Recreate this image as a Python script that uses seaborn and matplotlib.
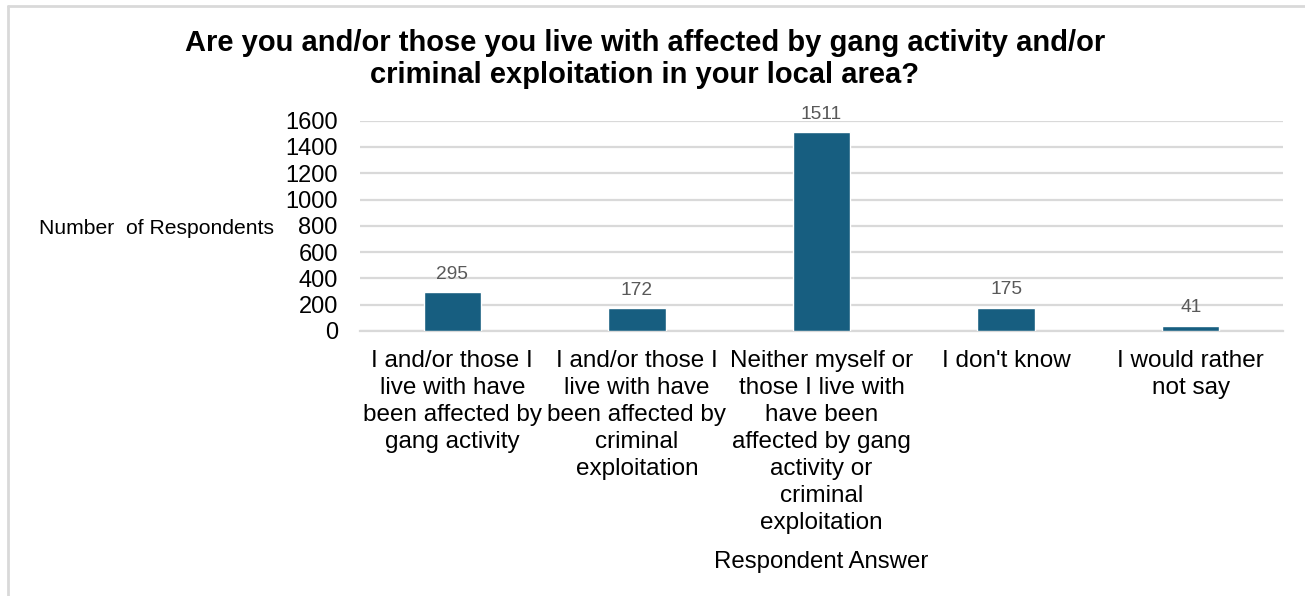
import matplotlib
matplotlib.use("Agg")
import matplotlib.pyplot as plt
from matplotlib.lines import Line2D
import seaborn as sns
import pandas as pd

# Survey answers and respondent counts
categories = [
    "I and/or those I\nlive with have\nbeen affected by\ngang activity",
    "I and/or those I\nlive with have\nbeen affected by\ncriminal\nexploitation",
    "Neither myself or\nthose I live with\nhave been\naffected by gang\nactivity or\ncriminal\nexploitation",
    "I don't know",
    "I would rather\nnot say",
]
counts = [295, 172, 1511, 175, 41]
y_ticks = [0, 200, 400, 600, 800, 1000, 1200, 1400, 1600]

title = ("Are you and/or those you live with affected by gang activity and/or\n"
         "criminal exploitation in your local area?")
x_label = "Respondent Answer"
y_label = "Number  of Respondents"

sns.set_theme(style="white")
plt.rcParams["font.family"] = ["Liberation Sans", "DejaVu Sans"]

df = pd.DataFrame({"answer": categories, "count": counts})

fig = plt.figure(figsize=(13.05, 5.96), dpi=100)
ax = fig.add_axes([360 / 1305, 1 - 331 / 596, 923 / 1305, 210.3 / 596])

sns.barplot(data=df, x="answer", y="count", color="#175e80", width=0.312,
            saturation=1, ax=ax, zorder=3)

ax.set_ylim(0, 1600)
ax.set_xlim(-0.5, len(categories) - 0.5)
ax.set_yticks(y_ticks)
ax.set_yticklabels([str(v) for v in y_ticks], fontsize=17, color="#000000")
ax.tick_params(axis="y", length=0, pad=16)
ax.tick_params(axis="x", length=0, pad=14)
for lbl in ax.get_xticklabels():
    lbl.set_fontsize(17.5)
    lbl.set_color("#000000")
    lbl.set_linespacing(1.29)
    lbl.set_horizontalalignment("center")

ax.yaxis.grid(True, color="#d9d9d9", linewidth=1.6, zorder=0)
ax.xaxis.grid(False)
for side in ["top", "right", "left"]:
    ax.spines[side].set_visible(False)
ax.spines["bottom"].set_color("#d9d9d9")
ax.spines["bottom"].set_linewidth(1.6)

ax.set_xlabel("")
ax.set_ylabel("")

for cont in ax.containers:
    ax.bar_label(cont, labels=[str(v) for v in counts], padding=7,
                 fontsize=13.8, color="#595959")

# Axis titles
fig.text(274 / 1305, 1 - 228 / 596, y_label, ha="right", va="center",
         fontsize=15.2, color="#000000")
fig.text(821 / 1305, 1 - 562 / 596, x_label, ha="center", va="center",
         fontsize=17.3, color="#000000")

# Chart title
fig.text(645 / 1305, 1 - 59 / 596, title, ha="center", va="center",
         fontsize=21, fontweight="bold", color="#000000", linespacing=1.21)

# Chart frame (top and left edges)
fig.add_artist(Line2D([7.5 / 1305, 1.0], [1 - 6 / 596, 1 - 6 / 596],
                      transform=fig.transFigure, color="#d9d9d9", linewidth=2))
fig.add_artist(Line2D([7.5 / 1305, 7.5 / 1305], [0, 1 - 6 / 596],
                      transform=fig.transFigure, color="#d9d9d9", linewidth=2))

fig.savefig("out.png", dpi=100)
